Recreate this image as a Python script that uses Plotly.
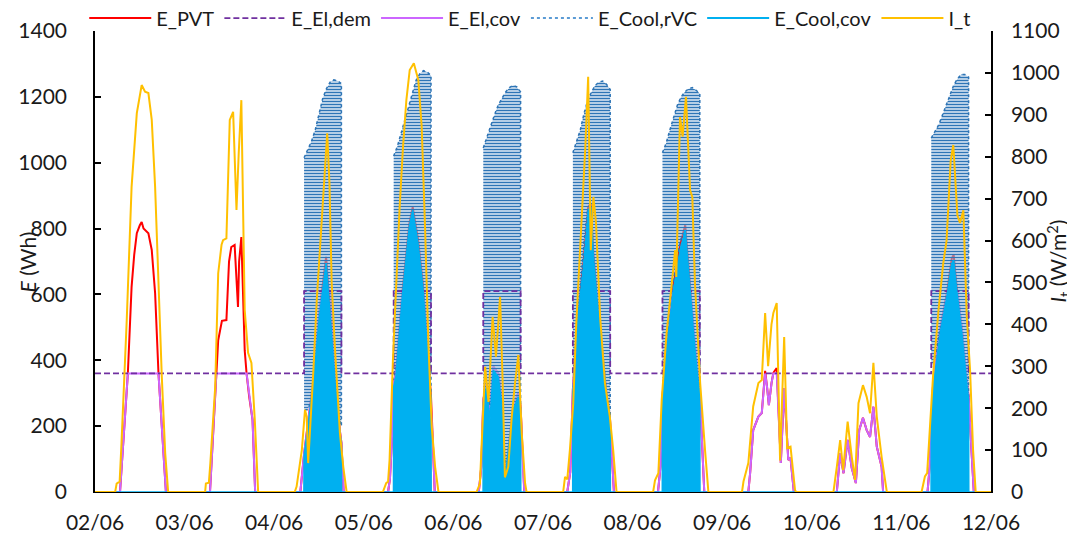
import pandas as pd
import plotly.graph_objects as go

START = pd.Timestamp("2023-06-02")
N_DAYS = 10
TICK_LABELS_FMT = "%d/%m"

# ---------------- I_t (W/m2), per day: hours and values ----------------
IT_H = [
    [5.4, 5.8, 6.6, 7.1, 8.5, 9.8, 11.2, 12.5, 13.0, 13.4, 14.3, 15.2, 16.1, 17.0, 17.9, 18.8, 19.6],
    [5.5, 5.7, 6.5, 6.9, 8.2, 9.0, 9.9, 10.3, 11.2, 12.1, 13.0, 13.9, 14.5, 15.2, 16.1, 17.0, 17.9, 18.8, 19.7],
    [5.5, 6.0, 7.4, 8.25, 8.7, 9.1, 9.6, 10.5, 11.4, 12.7, 13.6, 14.2, 14.8, 15.4, 16.3, 17.6, 18.5, 19.4],
    [5.1, 6.0, 6.5, 6.9, 7.8, 8.7, 9.6, 10.5, 11.4, 12.3, 13.4, 14.6, 15.5, 16.4, 17.3, 18.2, 19.1, 20.0],
    [6.2, 7.1, 8.0, 8.5, 9.4, 10.5, 11.4, 12.5, 13.2, 13.8, 14.7, 15.6, 16.5, 17.4, 18.3, 19.2, 19.6],
    [5.4, 5.9, 6.5, 7.2, 8.1, 8.9, 10.2, 11.3, 12.1, 12.8, 13.5, 14.2, 15.3, 16.6, 17.9, 18.8, 19.7],
    [5.5, 6.0, 6.9, 7.8, 9.1, 10.5, 11.4, 11.7, 12.3, 12.7, 13.4, 14.3, 15.4, 16.0, 16.7, 18.1, 19.4, 20.3],
    [5.3, 5.7, 7.0, 8.3, 9.7, 10.6, 11.5, 12.3, 13.2, 13.7, 14.6, 15.5, 16.6, 17.4, 18.3, 19.5, 19.8],
    [5.8, 6.7, 7.6, 8.4, 9.6, 10.7, 11.6, 12.5, 13.7, 14.7, 15.6, 16.5, 17.4, 18.7, 20.1],
    [5.4, 6.3, 6.9, 7.7, 8.5, 9.9, 11.2, 12.1, 12.7, 13.2, 13.9, 15.0, 15.7, 16.6, 17.5, 18.4, 19.2, 19.9],
]
IT_V = [
    [0, 20, 25, 117, 410, 728, 904, 971, 960, 955, 952, 888, 728, 489, 274, 93, 0],
    [0, 20, 22, 69, 251, 522, 590, 601, 605, 888, 907, 673, 809, 935, 434, 332, 308, 172, 0],
    [0, 13, 100, 196, 180, 69, 141, 291, 458, 656, 785, 856, 737, 498, 339, 141, 60, 0],
    [0, 21, 25, 76, 315, 513, 680, 823, 935, 1007, 1023, 983, 872, 633, 356, 155, 60, 0],
    [0, 20, 220, 299, 215, 418, 323, 466, 260, 35, 60, 176, 260, 327, 141, 21, 0],
    [0, 36, 30, 100, 212, 400, 618, 816, 991, 577, 704, 642, 418, 260, 180, 100, 0],
    [0, 28, 45, 220, 379, 498, 577, 513, 720, 895, 848, 943, 720, 704, 498, 260, 100, 0],
    [0, 25, 69, 204, 260, 267, 427, 300, 400, 427, 451, 75, 370, 105, 108, 5, 0],
    [0, 60, 124, 52, 168, 84, 29, 212, 255, 227, 188, 308, 180, 84, 0],
    [0, 37, 45, 170, 280, 430, 545, 600, 710, 790, 828, 660, 642, 672, 420, 290, 100, 0],
]

# ---------------- E_PVT (Wh) ----------------
PVT_H = [
    [6.7, 8.8, 9.8, 10.5, 11.2, 12.0, 12.5, 13.0, 13.4, 14.3, 15.2, 16.1, 17.0, 18.0, 19.0],
    [6.8, 8.5, 9.0, 10.0, 11.2, 11.9, 12.5, 13.4, 14.3, 14.6, 15.2, 16.1, 16.6, 17.3, 18.2, 18.9],
    [7.0, 8.0, 9.0, 10.5, 12.1, 13.4, 13.9, 15.0, 16.3, 17.6, 18.0, 18.6],
    [6.5, 7.0, 7.5, 8.0, 8.6, 10.4, 12.2, 13.1, 14.5, 15.8, 17.2, 17.7, 18.0, 18.5, 19.0],
    [6.8, 7.5, 8.0, 8.9, 9.8, 10.7, 12.0, 12.9, 13.8, 14.7, 16.0, 17.4, 18.0, 18.6, 19.0],
    [6.5, 7.3, 8.0, 9.4, 10.8, 12.1, 12.8, 13.5, 14.4, 15.7, 17.1, 17.9, 18.5, 19.0],
    [6.8, 7.5, 8.0, 9.1, 10.9, 12.7, 14.1, 14.9, 15.8, 16.7, 17.6, 18.0, 18.6, 19.2],
    [7.0, 7.5, 8.3, 9.7, 10.6, 11.0, 11.5, 12.0, 12.5, 13.2, 13.7, 14.3, 14.6, 15.7, 16.6, 17.2, 17.7, 18.3, 19.2],
    [6.7, 7.6, 8.5, 9.6, 10.7, 11.8, 12.7, 13.7, 14.7, 15.6, 16.5, 17.4, 18.7, 19.1],
    [7.0, 7.6, 8.0, 8.5, 10.4, 12.2, 13.5, 14.0, 14.8, 16.2, 17.5, 18.0, 18.8, 19.4],
]
PVT_V = [
    [0, 360, 623, 720, 786, 810, 820, 800, 796, 786, 735, 604, 361, 180, 0],
    [0, 360, 461, 520, 522, 700, 744, 750, 562, 700, 774, 430, 360, 290, 219, 0],
    [0, 115, 205, 340, 545, 660, 714, 545, 340, 185, 150, 0],
    [0, 40, 150, 330, 360, 615, 815, 865, 770, 635, 410, 310, 290, 150, 0],
    [0, 80, 280, 330, 230, 380, 360, 280, 45, 125, 260, 300, 260, 80, 0],
    [0, 60, 310, 545, 695, 866, 876, 725, 600, 440, 285, 230, 100, 0],
    [0, 80, 290, 440, 625, 750, 810, 695, 565, 440, 340, 305, 150, 0],
    [0, 60, 188, 229, 240, 290, 368, 320, 264, 330, 362, 372, 376, 88, 316, 200, 97, 103, 0],
    [0, 118, 57, 158, 73, 27, 188, 225, 188, 167, 259, 138, 77, 0],
    [0, 80, 210, 330, 495, 605, 710, 720, 625, 495, 340, 290, 120, 0],
]

# ---------------- E_El,cov (Wh) ----------------
ELCOV_H = [
    [6.7, 8.8, 17.0, 18.0, 19.0],
    [6.8, 8.5, 16.6, 17.3, 18.2, 18.9],
    [7.0, 8.0, 9.0, 10.5, 12.1, 12.9, 15.2, 16.3, 17.6, 18.0, 18.6],
    [6.5, 7.0, 7.5, 8.0, 8.6, 10.4, 15.8, 17.2, 17.7, 18.0, 18.5, 19.0],
    [6.8, 7.5, 8.0, 8.9, 9.8, 10.7, 12.0, 12.9, 13.8, 14.7, 16.0, 17.4, 18.0, 18.6, 19.0],
    [6.5, 7.3, 8.0, 9.4, 10.1, 14.3, 15.7, 17.1, 17.9, 18.5, 19.0],
    [6.8, 7.5, 8.0, 9.1, 10.8, 15.3, 15.8, 16.7, 17.6, 18.0, 18.6, 19.2],
    [7.0, 7.5, 8.3, 9.7, 10.6, 11.0, 11.5, 12.0, 12.5, 13.2, 13.7, 14.3, 14.6, 15.7, 16.6, 17.2, 17.7, 18.3, 19.2],
    [6.7, 7.6, 8.5, 9.6, 10.7, 11.8, 12.7, 13.7, 14.7, 15.6, 16.5, 17.4, 18.7, 19.1],
    [7.0, 7.6, 8.0, 8.5, 10.4, 12.2, 12.4, 15.0, 16.2, 17.5, 18.0, 18.8, 19.4],
]
ELCOV_V = [
    [0, 360, 360, 180, 0],
    [0, 360, 360, 290, 219, 0],
    [0, 115, 205, 340, 545, 610, 610, 340, 185, 150, 0],
    [0, 40, 150, 330, 360, 610, 610, 410, 310, 290, 150, 0],
    [0, 80, 280, 330, 230, 380, 360, 280, 45, 125, 260, 300, 260, 80, 0],
    [0, 60, 310, 545, 610, 610, 440, 285, 230, 100, 0],
    [0, 80, 290, 440, 610, 610, 565, 440, 340, 305, 150, 0],
    [0, 60, 188, 229, 240, 290, 360, 320, 264, 330, 360, 360, 360, 88, 316, 200, 97, 103, 0],
    [0, 118, 57, 158, 73, 27, 188, 225, 188, 167, 259, 138, 77, 0],
    [0, 80, 210, 330, 495, 605, 610, 610, 495, 340, 290, 120, 0],
]

# ---------------- E_El,dem (Wh) ----------------
DEM_BASE = 360
DEM_COOL = 610
COOL_DAYS = [2, 3, 4, 5, 6, 9]
COOL_START_H = 8
COOL_END_H = 18

# ---------------- E_Cool,cov (Wh), cooling days only ----------------
COV_H = [
    [7.95, 8.0, 9.0, 10.5, 12.1, 13.4, 13.9, 15.0, 16.3, 17.6, 18.0, 18.05],
    [7.95, 8.0, 8.6, 10.4, 12.2, 13.1, 14.5, 15.8, 17.2, 17.7, 18.0, 18.05],
    [7.95, 8.0, 8.9, 9.8, 10.7, 12.0, 12.9, 13.8, 14.7, 16.0, 17.4, 18.0, 18.05],
    [7.95, 8.0, 9.4, 10.8, 12.1, 12.8, 13.5, 14.4, 15.7, 17.1, 17.9, 18.0, 18.05],
    [7.95, 8.0, 9.1, 10.9, 12.7, 14.1, 14.9, 15.8, 16.7, 17.6, 18.0, 18.05],
    [7.95, 8.0, 8.5, 10.4, 12.2, 13.5, 14.0, 14.8, 16.2, 17.5, 18.0, 18.05],
]
COV_V = [
    [0, 110, 200, 331, 531, 644, 695, 531, 331, 179, 150, 0],
    [0, 320, 350, 603, 806, 856, 756, 623, 401, 300, 280, 0],
    [0, 270, 320, 219, 370, 350, 270, 36, 118, 249, 289, 250, 0],
    [0, 300, 532, 683, 856, 866, 714, 592, 431, 279, 228, 220, 0],
    [0, 280, 431, 613, 735, 796, 683, 553, 431, 330, 300, 0],
    [0, 200, 320, 482, 593, 694, 704, 613, 482, 330, 280, 0],
]

# ---------------- E_Cool,rVC (Wh): envelope of the oscillation, cooling days ----------------
RVC_HOURS = [8, 9, 10, 11, 12, 13, 14, 15, 16, 17, 18]
RVC_UPPER = [
    [1015, 1040, 1065, 1100, 1150, 1195, 1225, 1245, 1252, 1248, 1240],
    [1020, 1050, 1090, 1130, 1175, 1215, 1250, 1270, 1280, 1275, 1265],
    [1045, 1080, 1115, 1145, 1175, 1195, 1215, 1228, 1235, 1230, 1215],
    [1030, 1065, 1100, 1150, 1190, 1215, 1235, 1245, 1248, 1238, 1222],
    [1030, 1060, 1100, 1140, 1175, 1200, 1215, 1225, 1228, 1220, 1210],
    [1075, 1095, 1115, 1145, 1175, 1210, 1235, 1255, 1268, 1268, 1260],
]
RVC_LOWER = [
    [250, 250, 280, 380, 500, 600, 680, 520, 360, 240, 200],
    [340, 400, 530, 650, 780, 840, 780, 680, 560, 420, 290],
    [250, 300, 250, 360, 340, 250, 70, 110, 220, 280, 240],
    [290, 470, 620, 760, 860, 790, 640, 520, 420, 300, 220],
    [280, 400, 560, 650, 720, 770, 790, 620, 500, 380, 300],
    [380, 400, 470, 520, 580, 650, 700, 600, 480, 340, 280],
]

END = START + pd.Timedelta(days=N_DAYS)


def t(day, hour):
    return START + pd.Timedelta(days=day) + pd.Timedelta(hours=hour)


def build(days, hours_list, values_list):
    xs, ys = [START], [0]
    for d, H, V in zip(days, hours_list, values_list):
        for h, v in zip(H, V):
            xs.append(t(d, h))
            ys.append(v)
    xs.append(END)
    ys.append(0)
    return xs, ys


ALL_DAYS = list(range(N_DAYS))
FONT = "Lato, 'Open Sans', Arial, sans-serif"
TXT = "#1a1a1a"

fig = go.Figure()

# E_PVT
x, y = build(ALL_DAYS, PVT_H, PVT_V)
fig.add_trace(go.Scatter(x=x, y=y, name="E_PVT", mode="lines",
                         line=dict(color="#FF0000", width=2), legendrank=1))

# E_El,cov
x, y = build(ALL_DAYS, ELCOV_H, ELCOV_V)
fig.add_trace(go.Scatter(x=x, y=y, name="E_El,cov", mode="lines",
                         line=dict(color="#CC66FF", width=2), legendrank=3))

# E_Cool,rVC band (per cooling day)
for i, d in enumerate(COOL_DAYS):
    bx = [t(d, h) for h in RVC_HOURS] + [t(d, h) for h in RVC_HOURS[::-1]]
    by = RVC_UPPER[i] + RVC_LOWER[i][::-1]
    fig.add_trace(go.Scatter(
        x=bx, y=by, mode="lines", fill="toself", showlegend=False, hoverinfo="skip",
        line=dict(color="#2E75B6", width=1.5, dash="dot"),
        fillcolor="rgba(222,235,247,0.5)",
        fillpattern=dict(shape="-", fgcolor="#2E75B6", bgcolor="rgba(230,240,250,0.45)",
                         size=3, solidity=0.55, fillmode="replace"),
    ))
fig.add_trace(go.Scatter(x=[None], y=[None], name="E_Cool,rVC", mode="lines",
                         line=dict(color="#5B9BD5", width=2, dash="dot"), legendrank=4))

# E_El,dem (drawn over the rVC band, under the covered cooling)
dx, dy = [START], [DEM_BASE]
for d in COOL_DAYS:
    dx += [t(d, COOL_START_H), t(d, COOL_END_H)]
    dy += [DEM_COOL, DEM_BASE]
dx.append(END)
dy.append(DEM_BASE)
fig.add_trace(go.Scatter(x=dx, y=dy, name="E_El,dem", mode="lines", line_shape="hv",
                         line=dict(color="#7030A0", width=1.8, dash="6px,3px"), legendrank=2))

# E_Cool,cov
x, y = build(COOL_DAYS, COV_H, COV_V)
fig.add_trace(go.Scatter(x=x, y=y, mode="lines", fill="tozeroy", showlegend=False,
                         line=dict(color="#00B0F0", width=1.5), fillcolor="#00B0F0"))
fig.add_trace(go.Scatter(x=[None], y=[None], name="E_Cool,cov", mode="lines",
                         line=dict(color="#00B0F0", width=2), legendrank=5))

# I_t on secondary axis
x, y = build(ALL_DAYS, IT_H, IT_V)
fig.add_trace(go.Scatter(x=x, y=y, name="I_t", mode="lines", yaxis="y2",
                         line=dict(color="#FFC000", width=2), legendrank=6))

# page body has an 8px margin: figure is 1067x529 so the page is 1075x537
fig.update_layout(
    width=1067, height=529,
    margin=dict(l=87, r=84, t=23, b=45, autoexpand=False),
    paper_bgcolor="white", plot_bgcolor="white",
    font=dict(family=FONT, size=20, color=TXT),
    showlegend=True,
    legend=dict(orientation="h", x=-0.012, xanchor="left", y=1.028, yanchor="middle",
                font=dict(size=20, color=TXT), bgcolor="rgba(0,0,0,0)",
                itemwidth=62, tracegroupgap=0),
    xaxis=dict(type="date", range=[START, END], tick0=START, dtick=86400000,
               tickformat=TICK_LABELS_FMT, showgrid=False, zeroline=False, automargin=False,
               showline=True, linecolor="#000000", linewidth=1, ticks="",
               tickfont=dict(size=21, color=TXT), ticklabelstandoff=12),
    yaxis=dict(range=[0, 1400], dtick=200, showgrid=False, zeroline=False, automargin=False,
               showline=True, linecolor="#000000", linewidth=1.5,
               ticks="inside", ticklen=6, tickcolor="#000000", tickwidth=1.5,
               tickfont=dict(size=21, color=TXT), ticklabelstandoff=22),
    yaxis2=dict(range=[0, 1100], dtick=100, overlaying="y", side="right", automargin=False,
                showgrid=False, zeroline=False,
                showline=True, linecolor="#000000", linewidth=1.5,
                ticks="inside", ticklen=6, tickcolor="#000000", tickwidth=1.5,
                tickfont=dict(size=21, color=TXT), ticklabelstandoff=14),
    annotations=[
        dict(text="<i>E</i> (Wh)", xref="paper", yref="paper", x=-0.0748, y=0.5,
             textangle=-90, showarrow=False, font=dict(size=21, color=TXT),
             xanchor="center", yanchor="middle"),
        dict(text="<i>I</i><sub>t</sub> (W/m<sup>2</sup>)", xref="paper", yref="paper",
             x=1.0748, y=0.5, textangle=-90, showarrow=False,
             font=dict(size=21, color=TXT), xanchor="center", yanchor="middle"),
    ],
)

fig.write_html("out.html")
